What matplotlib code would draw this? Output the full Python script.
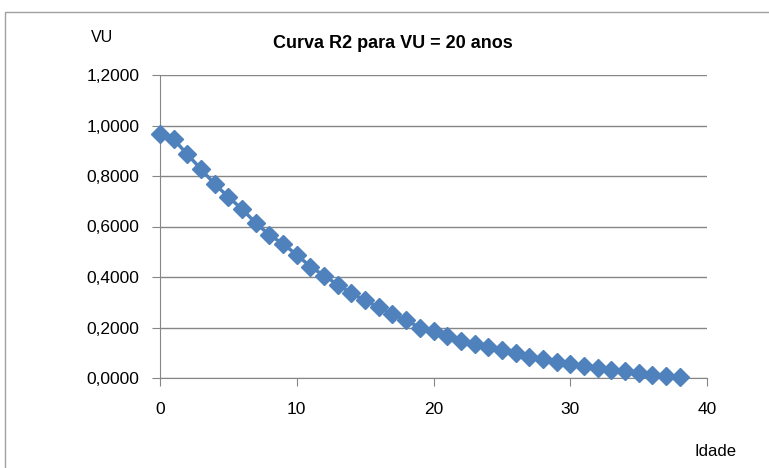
import matplotlib.pyplot as plt
from matplotlib.patches import Rectangle
from matplotlib.ticker import FuncFormatter

idade = list(range(0, 39))
vu = [0.968, 0.945, 0.886, 0.827, 0.768, 0.717, 0.669, 0.614, 0.567, 0.531,
      0.488, 0.441, 0.405, 0.370, 0.335, 0.307, 0.280, 0.252, 0.228, 0.200,
      0.185, 0.165, 0.146, 0.134, 0.122, 0.110, 0.098, 0.083, 0.075, 0.063,
      0.055, 0.047, 0.039, 0.031, 0.028, 0.020, 0.012, 0.008, 0.004]

plt.rcParams['font.family'] = ['Liberation Sans', 'DejaVu Sans']

fig = plt.figure(figsize=(7.69, 4.68), dpi=100)
fig.patches.append(Rectangle((5 / 769, -0.1), 1.1, (468 - 12) / 468 + 0.1,
                             transform=fig.transFigure, fill=False,
                             edgecolor='#a0a0a0', lw=1))
ax = fig.add_axes([160 / 769, (468 - 378) / 468, (707 - 160) / 769, (378 - 75) / 468])

ax.plot(idade, vu, color='#4f81bd', lw=2.5, marker='D', ms=9, mec='#4f81bd',
        zorder=3, clip_on=False)

ax.set_xlim(0, 40)
ax.set_ylim(0, 1.2)
ax.set_xticks([0, 10, 20, 30, 40])
ax.set_yticks([0, 0.2, 0.4, 0.6, 0.8, 1.0, 1.2])
ax.yaxis.set_major_formatter(FuncFormatter(lambda v, p: f"{v:.4f}".replace('.', ',')))
ax.grid(axis='y', color='#868686', lw=1)
ax.set_axisbelow(True)
for s in ['top', 'right']:
    ax.spines[s].set_visible(False)
for s in ['left', 'bottom']:
    ax.spines[s].set_color('#868686')
ax.tick_params(colors='#868686', length=6, labelcolor='black', labelsize=12.5)
ax.tick_params(axis='y', pad=9)
ax.tick_params(axis='x', pad=11)

fig.text(393 / 769, 1 - 44 / 468, 'Curva R2 para VU = 20 anos', ha='center', va='center',
         fontsize=13, fontweight='bold')
fig.text(102 / 769, 1 - 37 / 468, 'VU', ha='center', va='center', fontsize=11.5)
fig.text(716 / 769, 1 - 452 / 468, 'Idade', ha='center', va='center', fontsize=12)

fig.savefig('out.png', dpi=100)
